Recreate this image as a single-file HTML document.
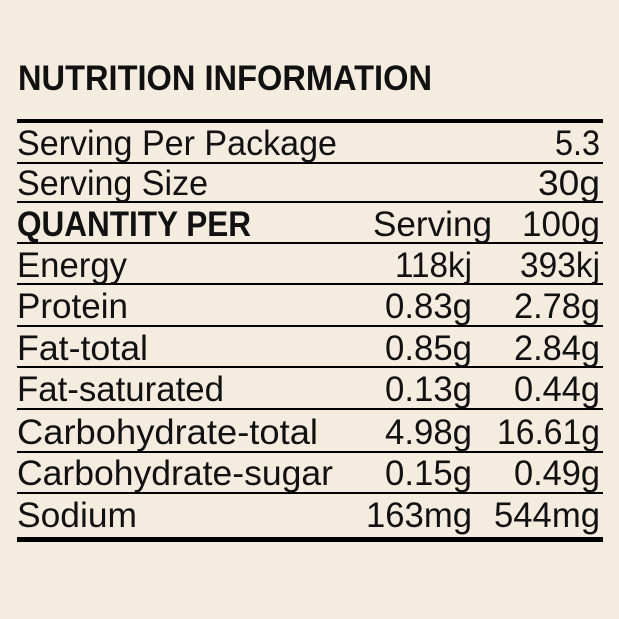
<!DOCTYPE html>
<html><head><style>
html,body{margin:0;padding:0;background:#f4ecdf;}
svg{display:block}
text{font-family:"Liberation Sans",sans-serif;font-size:35px;fill:#111;}
.b{font-weight:bold;}
</style></head><body>
<svg width="619" height="619" viewBox="0 0 619 619">
<rect width="619" height="619" fill="#f4ecdf"/>
<text x="18" y="90" class="b" font-size="35" textLength="414" lengthAdjust="spacingAndGlyphs">NUTRITION INFORMATION</text>
<rect x="17" y="119" width="586" height="4" fill="#000"/>
<g fill="#000">
<rect x="17" y="162" width="586" height="2"/>
<rect x="17" y="201" width="586" height="2"/>
<rect x="17" y="242" width="586" height="2"/>
<rect x="17" y="283" width="586" height="2"/>
<rect x="17" y="325" width="586" height="2"/>
<rect x="17" y="366" width="586" height="2"/>
<rect x="17" y="408" width="586" height="2"/>
<rect x="17" y="451" width="586" height="2"/>
<rect x="17" y="492" width="586" height="2"/>
<rect x="17" y="537" width="586" height="5"/>
</g>
<text x="17" y="155" textLength="320" lengthAdjust="spacingAndGlyphs">Serving Per Package</text>
<text x="555" y="155" textLength="45" lengthAdjust="spacingAndGlyphs">5.3</text>
<text x="17" y="195" textLength="191" lengthAdjust="spacingAndGlyphs">Serving Size</text>
<text x="538" y="195" textLength="62" lengthAdjust="spacingAndGlyphs">30g</text>
<text x="17" y="236" class="b" textLength="234" lengthAdjust="spacingAndGlyphs">QUANTITY PER</text>
<text x="373" y="236" textLength="119" lengthAdjust="spacingAndGlyphs">Serving</text>
<text x="522" y="236" textLength="78" lengthAdjust="spacingAndGlyphs">100g</text>
<text x="17" y="277" textLength="110" lengthAdjust="spacingAndGlyphs">Energy</text>
<text x="395" y="277" textLength="77" lengthAdjust="spacingAndGlyphs">118kj</text>
<text x="520" y="277" textLength="80" lengthAdjust="spacingAndGlyphs">393kj</text>
<text x="17" y="318" textLength="111" lengthAdjust="spacingAndGlyphs">Protein</text>
<text x="385" y="318" textLength="87" lengthAdjust="spacingAndGlyphs">0.83g</text>
<text x="514" y="318" textLength="86" lengthAdjust="spacingAndGlyphs">2.78g</text>
<text x="17" y="360" textLength="131" lengthAdjust="spacingAndGlyphs">Fat-total</text>
<text x="385" y="360" textLength="87" lengthAdjust="spacingAndGlyphs">0.85g</text>
<text x="514" y="360" textLength="86" lengthAdjust="spacingAndGlyphs">2.84g</text>
<text x="17" y="401" textLength="207" lengthAdjust="spacingAndGlyphs">Fat-saturated</text>
<text x="385" y="401" textLength="87" lengthAdjust="spacingAndGlyphs">0.13g</text>
<text x="514" y="401" textLength="86" lengthAdjust="spacingAndGlyphs">0.44g</text>
<text x="17" y="444" textLength="301" lengthAdjust="spacingAndGlyphs">Carbohydrate-total</text>
<text x="385" y="444" textLength="87" lengthAdjust="spacingAndGlyphs">4.98g</text>
<text x="497" y="444" textLength="103" lengthAdjust="spacingAndGlyphs">16.61g</text>
<text x="17" y="485" textLength="316" lengthAdjust="spacingAndGlyphs">Carbohydrate-sugar</text>
<text x="385" y="485" textLength="87" lengthAdjust="spacingAndGlyphs">0.15g</text>
<text x="514" y="485" textLength="86" lengthAdjust="spacingAndGlyphs">0.49g</text>
<text x="17" y="527" textLength="120" lengthAdjust="spacingAndGlyphs">Sodium</text>
<text x="366" y="527" textLength="106" lengthAdjust="spacingAndGlyphs">163mg</text>
<text x="494" y="527" textLength="106" lengthAdjust="spacingAndGlyphs">544mg</text>
</svg>
</body></html>
